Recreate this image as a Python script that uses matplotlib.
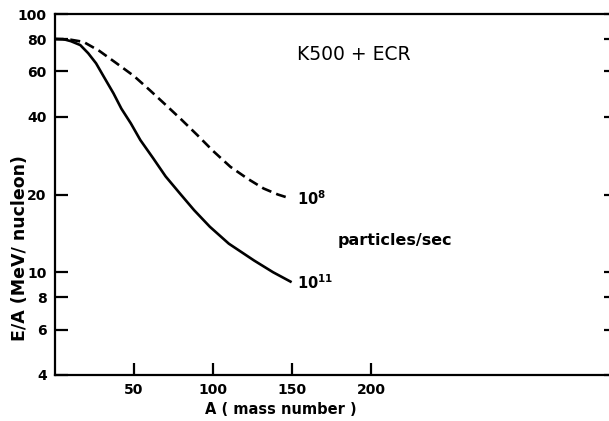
"""E/A versus mass number for K500 + ECR."""
import matplotlib
matplotlib.use('Agg')
import matplotlib.pyplot as plt

# Curves
a_1e8 = [0, 10, 18, 28, 39, 50, 60, 70, 80, 90, 100, 111, 122, 132, 141, 149]
e_1e8 = [80, 79.5, 78, 72, 64.4, 57.5, 50.7, 44.5, 39, 34, 29.5, 25.6, 23, 21.1, 20, 19.3]

a_1e11 = [0, 5, 10, 16, 21, 26, 31, 37, 42, 48, 54, 62, 70, 79, 88, 98, 110, 126, 138, 149]
e_1e11 = [80, 80, 78.5, 75.8, 70.5, 64.4, 57, 49.3, 43, 37.7, 32.5, 27.7, 23.5, 20.2,
          17.4, 15.0, 12.9, 11.1, 10.0, 9.2]

x_ticks = [50, 100, 150, 200]
y_ticks = [4, 6, 8, 10, 20, 40, 60, 80, 100]

W, H = 609, 421
fig = plt.figure(figsize=(W / 100, H / 100), dpi=100)
ax = fig.add_axes([55 / W, (H - 375) / H, (616 - 55) / W, (375 - 14) / H])

ax.plot(a_1e8, e_1e8, color='black', lw=1.9, dashes=(3.8, 2.0))
ax.plot(a_1e11, e_1e11, color='black', lw=1.9)

ax.set_yscale('log')
ax.set_xlim(0, 355)
ax.set_ylim(4, 100)
ax.set_xticks(x_ticks)
ax.set_xticklabels([str(t) for t in x_ticks])
ax.set_yticks(y_ticks)
ax.set_yticklabels([str(t) for t in y_ticks])
ax.minorticks_off()
ax.tick_params(direction='in', length=9, width=1.6, right=True,
               labelsize=10, pad=6)
for lab in ax.get_xticklabels() + ax.get_yticklabels():
    lab.set_fontweight('bold')
for sp in ax.spines.values():
    sp.set_linewidth(1.6)

# Annotations
ax.text(189, 70, 'K500 + ECR', fontsize=13.5, ha='center', va='center')
ax.text(153, 19.2, r'$\mathregular{10^8}$', fontsize=10.5, fontweight='bold',
        ha='left', va='center')
ax.text(153, 9.1, r'$\mathregular{10^{11}}$', fontsize=10.5, fontweight='bold',
        ha='left', va='center')
ax.text(179, 13.3, 'particles/sec', fontsize=11.5, fontweight='bold',
        ha='left', va='center')

fig.text(281 / W, 1 - 410 / H, 'A ( mass number )', fontsize=10.5, fontweight='bold',
         ha='center', va='center')
fig.text(20 / W, 1 - 248 / H, 'E/A (MeV/ nucleon)', fontsize=12.5, fontweight='bold',
         ha='center', va='center', rotation=90)

fig.savefig('out.png', dpi=100)
